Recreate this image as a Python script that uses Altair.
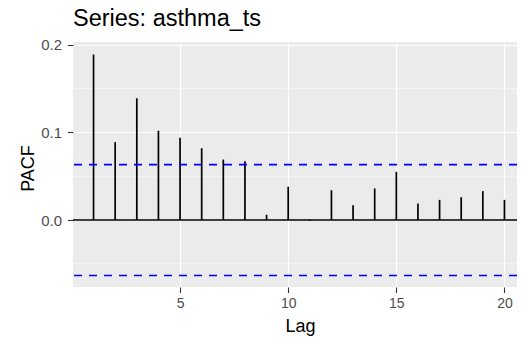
import altair as alt
import pandas as pd

lags = list(range(1, 21))
pacf = [0.189, 0.089, 0.139, 0.102, 0.094, 0.082, 0.069, 0.067, 0.006, 0.038,
        -0.001, 0.034, 0.017, 0.036, 0.055, 0.019, 0.023, 0.026, 0.033, 0.023]
ci = 0.0633
x_ticks = [5, 10, 15, 20]
y_ticks = [0.0, 0.1, 0.2]
y_minor = [-0.05, 0.05, 0.15]

FONT = "Liberation Sans"

df = pd.DataFrame({"lag": lags, "pacf": pacf, "base": [0.0] * len(lags)})
ci_df = pd.DataFrame({"ci": [ci, -ci]})
minor_df = pd.DataFrame({"y": y_minor})
zero_df = pd.DataFrame({"y": [0.0]})

xs = alt.Scale(domain=[0.05, 20.58], nice=False, zero=False)
ys = alt.Scale(domain=[-0.0765, 0.2033], nice=False, zero=False)

x_axis = alt.Axis(values=x_ticks, title="Lag", grid=True, gridColor="white", gridWidth=1.2,
                  domain=False, tickColor="#333333", tickSize=5.5, tickWidth=1.1,
                  labelColor="#4D4D4D", labelFontSize=14, labelFont=FONT, labelPadding=4,
                  titleFont=FONT, titleFontSize=18, titleFontWeight="normal", titleColor="black",
                  titlePadding=7, titleX=227, titleAlign="center")
y_axis = alt.Axis(values=y_ticks, format=".1f", title="PACF", grid=True, gridColor="white",
                  gridWidth=1.2, domain=False, tickColor="#333333", tickSize=5.5, tickWidth=1.1,
                  labelColor="#4D4D4D", labelFontSize=15, labelFont=FONT, labelPadding=6,
                  titleFont=FONT, titleFontSize=18, titleFontWeight="normal", titleColor="black",
                  titleX=-40, titleY=126, titleBaseline="alphabetic", titleAlign="center",
                  titleAngle=270)

minor = alt.Chart(minor_df).mark_rule(color="white", strokeWidth=0.6).encode(
    y=alt.Y("y:Q", scale=ys, axis=y_axis)
)

zero = alt.Chart(zero_df).mark_rule(color="black", strokeWidth=1.4).encode(
    y=alt.Y("y:Q", scale=ys, axis=y_axis)
)

bars = alt.Chart(df).mark_rule(color="black", strokeWidth=1.7).encode(
    x=alt.X("lag:Q", scale=xs, axis=x_axis),
    y=alt.Y("pacf:Q", scale=ys, axis=y_axis),
    y2="base:Q",
)

cil = alt.Chart(ci_df).mark_rule(color="#0000FF", strokeWidth=1.6, strokeDash=[8, 7]).encode(
    y=alt.Y("ci:Q", scale=ys, axis=y_axis)
)

chart = alt.layer(minor, zero, bars, cil).properties(
    width=444,
    height=245,
    autosize="none",
    padding={"left": 65, "top": 34, "right": 0, "bottom": 56},
    title=alt.TitleParams("Series: asthma_ts", anchor="start", frame="group", font=FONT,
                          fontSize=23.5, fontWeight="normal", color="black",
                          baseline="alphabetic", offset=-12),
).configure(background="white").configure_view(fill="#EBEBEB", stroke=None)

chart.save("out.html", embed_options={"renderer": "svg", "actions": False})
